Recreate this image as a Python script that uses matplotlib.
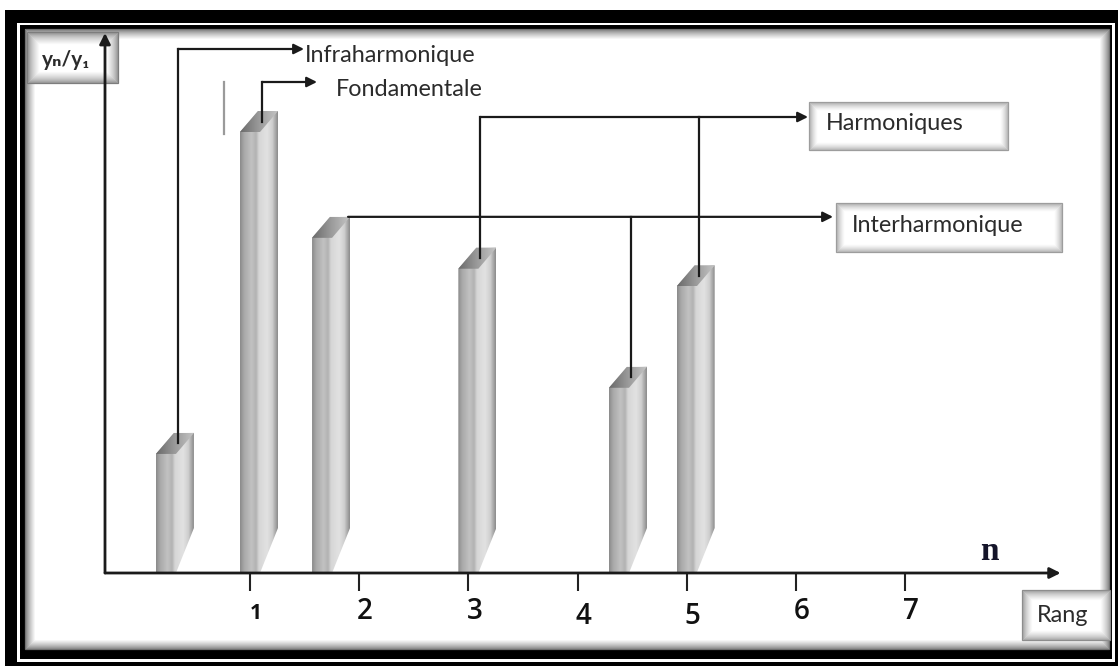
import numpy as np
import matplotlib
matplotlib.use('Agg')
import matplotlib.pyplot as plt
import matplotlib.transforms as mtransforms
from matplotlib.patches import Polygon, Rectangle
from matplotlib.colors import LinearSegmentedColormap, to_rgb

# spectral lines: rang n and amplitude relative to the fundamental (yn/y1)
rang = [0.23, 1.0, 1.66, 3.0, 4.38, 5.0]
amplitude = [0.27, 1.0, 0.76, 0.69, 0.42, 0.65]
tick_rangs = [1, 2, 3, 4, 5, 6, 7]
tick_labels = ['1', '2', '3', '4', '5', '6', '7']

infra_idx = 0
fond_idx = 1
harm_idx = [3, 5]
inter_idx = [2, 4]

W, H = 1118, 666
PXN = 109.17     # pixels per unit of n
PXY = 441.0      # pixels per unit of yn/y1
FRONT, DEPTH, RISE, FOOT = 20, 18, 21, 45

plt.rcParams['font.family'] = ['Lato', 'DejaVu Sans']
TXT = '#2b2b2b'
FS = 16.8

fig = plt.figure(figsize=(W / 100, H / 100), dpi=100)

# ---- frame and labelled boxes, in pixel coordinates
bg = fig.add_axes([0, 0, 1, 1])
bg.set_xlim(0, W)
bg.set_ylim(H, 0)
bg.axis('off')


def blend(c1, c2, t):
    a, b = np.array(to_rgb(c1)), np.array(to_rgb(c2))
    return tuple(a + (b - a) * t)


def rect(x0, y0, x1, y1, **kw):
    bg.add_patch(Rectangle((x0, y0), x1 - x0, y1 - y0, **kw))


rect(5, 10, W, H, fc='black', ec='none')
rect(17, 23, 1115, 662, fc='white', ec='none')
rect(20, 25, 1112, 659, fc='black', ec='none')
rect(25, 29, 1109, 649, fc='white', ec='none')
for i in range(11):
    c = blend('#6e6e6e', 'white', (i / 10) ** 0.7)
    rect(25 + i, 29 + i, 1109 - i, 649 - i, fill=False, ec=c, lw=0.9)


def shaded_box(x0, y0, x1, y1, edge, steps):
    rect(x0, y0, x1, y1, fc='white', ec='none')
    for i in range(steps):
        c = blend(edge, 'white', (i / steps) ** 0.6)
        rect(x0 + i, y0 + i, x1 - i, y1 - i, fill=False, ec=c, lw=0.9)


shaded_box(27, 32, 118, 83, '#7a7a7a', 12)
shaded_box(809, 102, 1008, 150, '#9a9a9a', 8)
shaded_box(836, 203, 1062, 252, '#9a9a9a', 8)
shaded_box(1022, 590, 1110, 640, '#8a8a8a', 10)

bg.text(42, 60, 'yₙ/y₁', fontsize=15, fontweight='bold', color=TXT,
        va='center', ha='left')
bg.text(826, 124, 'Harmoniques', fontsize=FS, color=TXT, va='center')
bg.text(852, 226, 'Interharmonique', fontsize=FS, color=TXT, va='center')
bg.text(1037, 615, 'Rang', fontsize=FS, color=TXT, va='center')
bg.text(989, 552, 'n', fontsize=24, fontweight='bold', color='#15152a',
        family='Liberation Serif', ha='center', va='center')
bg.plot([224, 224], [82, 134], color='#9a9a9a', lw=1.6)

# ---- spectrum axes
ax = fig.add_axes([105 / W, (H - 573) / H, 960 / W, 540 / H])
ax.patch.set_visible(False)
xmin, xmax = 1 - (250 - 105) / PXN, 1 + (1065 - 250) / PXN
ymax = 540 / PXY
ax.set_xlim(xmin, xmax)
ax.set_ylim(0, ymax)
for s in ax.spines.values():
    s.set_visible(False)
ax.set_yticks([])
ax.set_xticks(tick_rangs)
ax.set_xticklabels(tick_labels, family='Open Sans', fontweight='semibold')
ax.tick_params(axis='x', direction='out', length=13, width=1.5,
               color='#222222', pad=4, labelsize=20, labelcolor='#111111')

labels = ax.get_xticklabels()
labels[0].set_fontsize(15)
labels[0].set_fontweight('bold')
for i, lab in enumerate(labels):
    down = 6 if i == 0 else (5 if i in (3, 4) else 0)
    off = mtransforms.ScaledTranslation(6 / 100, -down / 100, fig.dpi_scale_trans)
    lab.set_transform(lab.get_transform() + off)

arrow = dict(arrowstyle='-|>', color='#1a1a1a', lw=2.0, mutation_scale=16,
             shrinkA=0, shrinkB=0)
ax.annotate('', xy=(xmax - 0.04, 0), xytext=(xmin, 0), arrowprops=arrow,
            annotation_clip=False)
ax.annotate('', xy=(xmin, ymax), xytext=(xmin, 0), arrowprops=arrow,
            annotation_clip=False)

bar_cmap = LinearSegmentedColormap.from_list('bar', [
    (0.0, '#8c8c8c'), (0.1, '#a8a8a8'), (0.3, '#c2c2c2'), (0.42, '#b2b2b2'),
    (0.5, '#d6d6d6'), (0.72, '#e2e2e2'), (0.86, '#cecece'), (0.95, '#a4a4a4'),
    (1.0, '#8e8e8e')])
top_cmap = LinearSegmentedColormap.from_list('top', ['#6a6a6a', '#9a9a9a', '#c4c4c4'])
grad = np.linspace(0, 1, 64)[None, :]


def bar3d(n, h):
    x0 = n - 10 / PXN
    xf = x0 + FRONT / PXN
    xs = x0 + DEPTH / PXN
    x1 = x0 + (FRONT + DEPTH) / PXN
    back = h + RISE / PXY
    body = Polygon([(x0, 0), (x0, h), (xs, back), (x1, back),
                    (x1, FOOT / PXY), (xf, 0)], closed=True, fc='none', ec='none')
    ax.add_patch(body)
    im = ax.imshow(grad, extent=(x0, x1, 0, back), cmap=bar_cmap, aspect='auto',
                   interpolation='bilinear', zorder=2)
    im.set_clip_path(body)
    top = Polygon([(x0, h), (xs, back), (x1, back), (xf, h)], closed=True,
                  fc='none', ec='none')
    ax.add_patch(top)
    im2 = ax.imshow(grad, extent=(x0, x1, h, back), cmap=top_cmap, aspect='auto',
                    interpolation='bilinear', zorder=3)
    im2.set_clip_path(top)


for n, h in zip(rang, amplitude):
    bar3d(n, h)
ax.set_xlim(xmin, xmax)
ax.set_ylim(0, ymax)

line = dict(color='#1a1a1a', lw=1.6, zorder=4)
conn = dict(arrow, lw=1.6, mutation_scale=15)


def anchor(i):
    return rang[i] + 12 / PXN, amplitude[i] + (RISE / 2) / PXY


def px_n(p):
    return 1 + (p - 250) / PXN


def px_y(p):
    return (573 - p) / PXY


# infraharmonique
lvl = px_y(49)
x, y = anchor(infra_idx)
ax.plot([x, x], [y, lvl], **line)
ax.annotate('', xy=(px_n(304), lvl), xytext=(x, lvl), arrowprops=conn)
ax.text(px_n(305), px_y(55), 'Infraharmonique', fontsize=FS, color=TXT,
        va='center', ha='left')

# fondamentale
lvl = px_y(82)
x, y = anchor(fond_idx)
ax.plot([x, x], [y, lvl], **line)
ax.annotate('', xy=(px_n(317), lvl), xytext=(x, lvl), arrowprops=conn)
ax.text(px_n(336), px_y(89), 'Fondamentale', fontsize=FS, color=TXT,
        va='center', ha='left')

# harmoniques
lvl = px_y(117)
xs = []
for i in harm_idx:
    x, y = anchor(i)
    ax.plot([x, x], [y, lvl], **line)
    xs.append(x)
ax.annotate('', xy=(px_n(808), lvl), xytext=(min(xs), lvl), arrowprops=conn)

# interharmonique: level runs from the back edge of the first line
lvl = amplitude[inter_idx[0]] + RISE / PXY
x0 = rang[inter_idx[0]] + (FRONT + DEPTH - 12) / PXN
x, y = anchor(inter_idx[1])
ax.plot([x, x], [y, lvl], **line)
ax.annotate('', xy=(px_n(833), lvl), xytext=(x0, lvl), arrowprops=conn)

fig.savefig('out.png', dpi=100)
